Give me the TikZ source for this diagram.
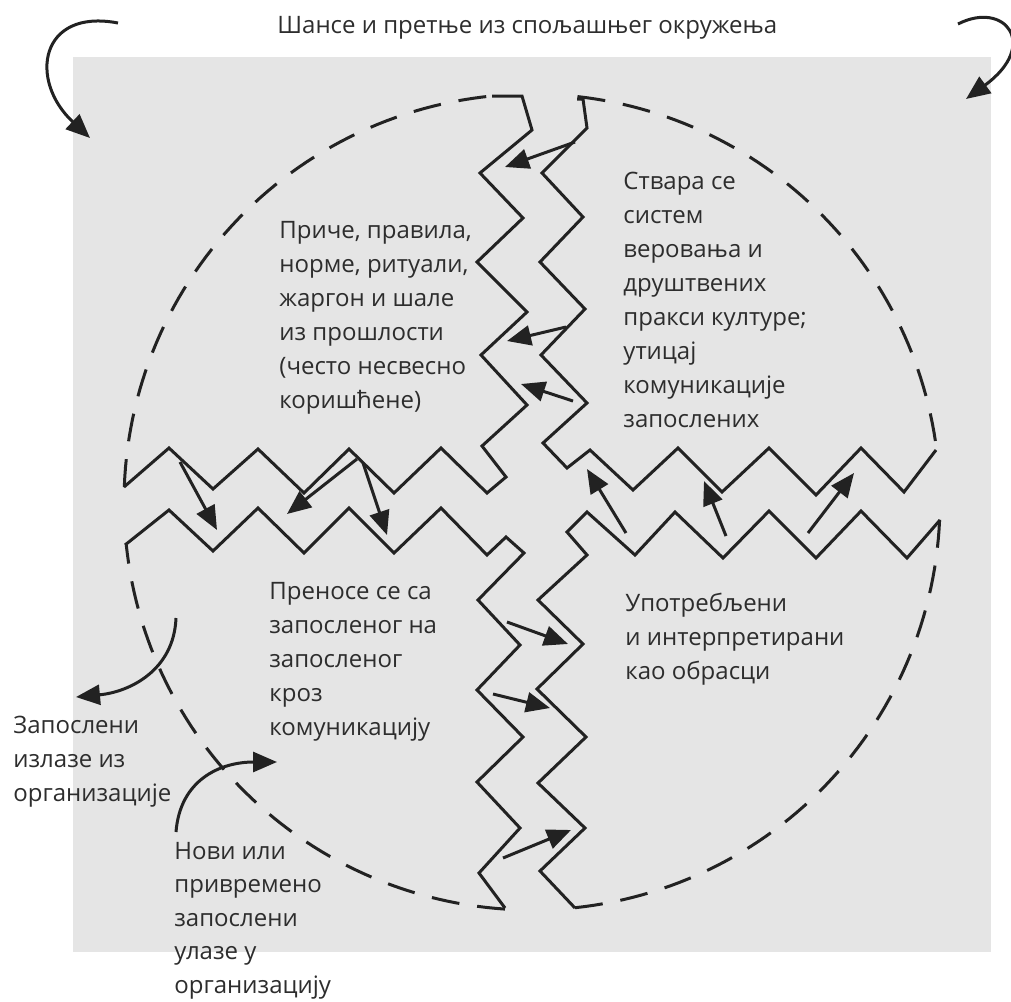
\documentclass[tikz,border=0pt]{standalone}
\usepackage{fontspec}
\setmainfont{Open Sans}
\usetikzlibrary{arrows.meta}
\definecolor{paper}{RGB}{229,229,229}
\definecolor{ink}{RGB}{34,34,34}
\definecolor{textink}{RGB}{45,45,45}
\newcommand{\txtsize}{\fontsize{12}{17}\selectfont}
\newcommand{\tightsize}{\fontsize{12}{16.75}\selectfont}
\newcommand{\lines}[1]{\begin{tabular}[t]{@{}l@{}}#1\end{tabular}}
\begin{document}
\begin{tikzpicture}[x=0.5pt,y=-0.5pt,
  zig/.style={line width=1.5pt, draw=ink, line join=miter},
  rim/.style={line width=1.5pt, draw=ink, dash pattern=on 14pt off 9pt},
  flow/.style={line width=1.5pt, draw=ink, -{Triangle[length=12pt,width=10pt]}},
  txt/.style={anchor=base west, inner sep=0pt, text=textink, font=\txtsize}]
\useasboundingbox (0,0) rectangle (1011,1001);

% environment field
\fill[paper] (72.5,57) rectangle (991,952);

% dashed outline of the culture circle, one arc per quadrant
\draw[rim] plot[domain=182.1:264.4, samples=60] ({532+408*cos(\x)},{502+408*sin(\x)});
\draw[rim] plot[domain=276.4:352.7, samples=60] ({532+408*cos(\x)},{502+408*sin(\x)});
\draw[rim] plot[domain=2.5:84, samples=60] ({532+408*cos(\x)},{502+408*sin(\x)});
\draw[rim] plot[domain=93.8:174, samples=60] ({532+408*cos(\x)},{502+408*sin(\x)});

% zigzag borders of the four quadrants
\draw[zig] (492,96) -- (522,96) -- (532,130) -- (480,173) -- (523,218) -- (477,262)
  -- (527,312) -- (481,355) -- (527,405) -- (482,446) -- (506,477) -- (487,493)
  -- (441,448) -- (394,493) -- (349,449) -- (304,493) -- (258,449) -- (213,489)
  -- (169,448) -- (124,487);
\draw[zig] (577,99) -- (583,99) -- (587,128) -- (542,173) -- (583,217) -- (540,262)
  -- (585,309) -- (541,355) -- (587,403) -- (543,443) -- (567,468) -- (590,450)
  -- (633,490) -- (678,448) -- (722,492) -- (769,448) -- (816,495) -- (861,448)
  -- (904,492) -- (936,450);
\draw[zig] (940,520) -- (907,558) -- (861,511) -- (816,558) -- (769,511) -- (723,558)
  -- (675,512) -- (635,555) -- (587,512) -- (567,532) -- (587,555) -- (538,600)
  -- (583,644) -- (537,689) -- (586,737) -- (538,783) -- (585,828) -- (540,871)
  -- (575,908);
\draw[zig] (125,545) -- (169,510) -- (213,551) -- (258,508) -- (304,553) -- (349,508)
  -- (394,553) -- (441,508) -- (487,555) -- (506,537) -- (524,553) -- (478,600)
  -- (520,645) -- (477,690) -- (523,737) -- (477,782) -- (520,828) -- (479,873)
  -- (505,908);

% texts
\node[txt] (title) at (277,33) {Шансе и претње из спољашњег окружења};
\node[txt] (past) at (279,238) {\lines{Приче, правила,\\норме, ритуали,\\жаргон и шале\\из прошлости\\(често несвесно\\коришћене)}};
\node[txt] (beliefs) at (623,189) {\lines{Ствара се\\систем\\веровања и\\друштвених\\пракси културе;\\утицај\\комуникације\\запослених}};
\node[txt] (transfer) at (269,599) {\lines{Преносе се са\\запосленог на\\запосленог\\кроз\\комуникацију}};
\node[txt] (patterns) at (625,611) {\lines{Употребљени\\и интерпретирани\\као обрасци}};
\node[txt] (leave) at (13,733) {\lines{Запослени\\излазе из\\организације}};
\node[txt, font=\tightsize] (enter) at (174,859) {\lines{Нови или\\привремено\\запослени\\улазе у\\организацију}};

% anchor points of the arrows
\coordinate (tlS) at (118,23);  \coordinate (tlE) at (90,138);
\coordinate (trS) at (958,24);  \coordinate (trE) at (966,99);
\coordinate (outS) at (176,618); \coordinate (outE) at (76,697);
\coordinate (inS) at (176,832);  \coordinate (inE) at (277,762);

\coordinate (a1s) at (575,142); \coordinate (a1e) at (505,167);
\coordinate (a2s) at (566,327); \coordinate (a2e) at (507,341);
\coordinate (a3s) at (573,401); \coordinate (a3e) at (521,384);
\coordinate (a4s) at (180,462); \coordinate (a4e) at (217,530);
\coordinate (a5s) at (357,459); \coordinate (a5e) at (287,514);
\coordinate (a6s) at (363,463); \coordinate (a6e) at (387,535);
\coordinate (a7s) at (626,533); \coordinate (a7e) at (587,469);
\coordinate (a8s) at (726,536); \coordinate (a8e) at (704,481);
\coordinate (a9s) at (808,533); \coordinate (a9e) at (854,473);
\coordinate (a10s) at (507,622); \coordinate (a10e) at (568,644);
\coordinate (a11s) at (493,694); \coordinate (a11e) at (550,708);
\coordinate (a12s) at (503,858); \coordinate (a12e) at (571,830);

% curved arrows: environment influence, employees leaving and entering
\draw[flow] (tlS) .. controls (40,8) and (28,80) .. (tlE);
\draw[flow] (trS) .. controls (1005,0) and (1040,45) .. (trE);
\draw[flow] (outS) .. controls (174,670) and (130,692) .. (outE);
\draw[flow] (inS) .. controls (180,780) and (220,762) .. (inE);

% straight arrows between the quadrants
\foreach \i in {1,...,12} \draw[flow] (a\i s) -- (a\i e);
\end{tikzpicture}
\end{document}
